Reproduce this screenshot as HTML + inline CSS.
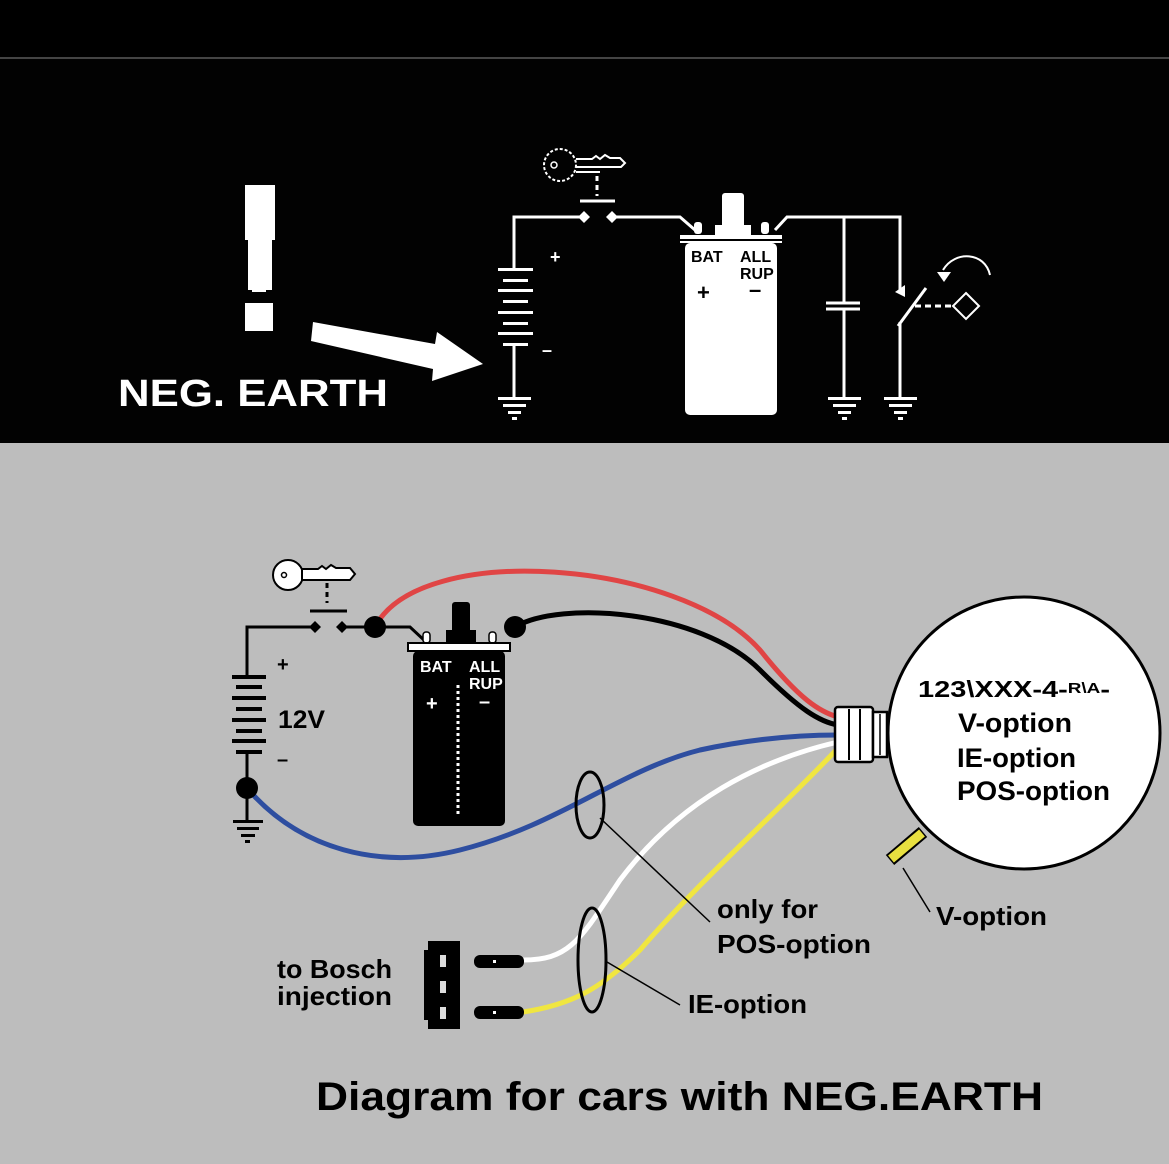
<!DOCTYPE html>
<html><head><meta charset="utf-8"><style>
html,body{margin:0;padding:0;background:#000}
svg{display:block}
text{font-family:"Liberation Sans",sans-serif;font-weight:bold}
</style></head><body>
<svg width="1169" height="1164" viewBox="0 0 1169 1164" xmlns="http://www.w3.org/2000/svg">
<rect x="0" y="0" width="1169" height="1164" fill="#000"/>
<rect x="0" y="57" width="1169" height="2" fill="#444"/>
<rect x="0" y="59" width="1169" height="384" fill="#020202"/>
<rect x="0" y="443" width="1169" height="721" fill="#bdbdbd"/>

<!-- TOP SECTION -->
<polygon points="245,185 275,185 275,240 272,240 272,290 266,290 266,292 252,292 252,290 248,290 248,240 245,240" fill="#fff"/>
<rect x="245" y="303" width="28" height="28" fill="#fff"/>
<polygon points="313,322 435,344 437,332 483,364 432,381 433,369 311,341" fill="#fff"/>
<text x="118" y="406" font-size="38" fill="#fff" textLength="270" lengthAdjust="spacingAndGlyphs">NEG. EARTH</text>

<g stroke="#fff" stroke-width="3" fill="none">
<path d="M514,269 V217 H584"/>
<path d="M612,217 H680 L695,230"/>
<path d="M775,230 L787,217 H900 V292"/>
<path d="M844,217 V303 M844,309 V398"/>
<path d="M900,322 V398"/>
<path d="M514,344 V398"/>
<line x1="580" y1="201" x2="615" y2="201"/>
<path d="M597,176 V196" stroke-dasharray="5,4"/>
<path d="M915,306 H955" stroke-dasharray="6,4"/>
<line x1="826" y1="303" x2="860" y2="303"/>
<line x1="826" y1="309" x2="860" y2="309"/>
<line x1="898" y1="326" x2="926" y2="288"/>
<path d="M990,275 C985,252 955,250 943,270" stroke-width="2"/>
<polygon points="966,293 979,306 966,319 953,306" stroke-width="2"/>
<circle cx="560" cy="165" r="16" stroke-width="2" stroke-dasharray="3,2"/>
<circle cx="554" cy="165" r="3" stroke-width="1.5"/>
<path d="M576,159 H592 L596,156 L600,159 L605,155 L610,158 H620 L625,163 L621,167 H576 M576,172 H600" stroke-width="2"/>
</g>
<polygon points="937,272 951,272 944,282" fill="#fff"/>
<polygon points="584,211 590,217 584,223 578,217" fill="#fff"/>
<polygon points="612,211 618,217 612,223 606,217" fill="#fff"/>
<path d="M895,292 L905,285 V297 Z" fill="#fff"/>
<g fill="#fff">
<rect x="498" y="268" width="35" height="3"/><rect x="503" y="279" width="25" height="3"/>
<rect x="498" y="289" width="35" height="3"/><rect x="503" y="300" width="25" height="3"/>
<rect x="498" y="311" width="35" height="3"/><rect x="503" y="322" width="25" height="3"/>
<rect x="498" y="332" width="35" height="3"/><rect x="503" y="343" width="25" height="3"/>
<g id="gnd"><rect x="498" y="397" width="33" height="3"/><rect x="503" y="404" width="23" height="3"/><rect x="508" y="411" width="13" height="3"/><rect x="512" y="417" width="5" height="3"/></g>
<use href="#gnd" x="330"/><use href="#gnd" x="386"/>
<rect x="722" y="193" width="22" height="40" rx="3"/>
<rect x="715" y="225" width="36" height="10"/>
<rect x="694" y="222" width="8" height="12" rx="3"/><rect x="761" y="222" width="8" height="12" rx="3"/>
<rect x="680" y="235" width="102" height="8"/>
<rect x="685" y="243" width="92" height="172" rx="5"/>
</g>
<rect x="680" y="239" width="102" height="2" fill="#000"/>
<text x="550" y="263" font-size="18" fill="#fff" font-weight="normal">+</text>
<text x="542" y="356" font-size="18" fill="#fff" font-weight="normal">–</text>
<text x="691" y="262" font-size="16" fill="#000" font-family="Liberation Mono">BAT</text>
<text x="740" y="262" font-size="16" fill="#000" font-family="Liberation Mono">ALL</text>
<text x="740" y="279" font-size="16" fill="#000" font-family="Liberation Mono">RUP</text>
<text x="697" y="300" font-size="22" fill="#000">+</text>
<text x="749" y="297" font-size="22" fill="#000">–</text>

<!-- BOTTOM SECTION -->
<g fill="none" stroke-linecap="round">
<path d="M375,627 C420,540 680,560 760,650 C800,700 820,712 838,717" stroke="#e04545" stroke-width="5"/>
<path d="M515,627 C560,600 700,610 760,670 C800,710 820,722 838,725" stroke="#000" stroke-width="5"/>
<path d="M247,788 C300,850 380,870 460,850 C560,825 620,770 700,750 C760,737 810,735 838,735" stroke="#2e4ea0" stroke-width="5"/>
<path d="M523,960 C570,960 580,940 620,880 C680,800 760,760 838,742" stroke="#fff" stroke-width="5"/>
<path d="M523,1012 C570,1005 600,990 640,950 C700,880 790,800 838,748" stroke="#f0e640" stroke-width="5"/>
</g>
<g stroke="#000" stroke-width="3" fill="none">
<path d="M247,677 V627 H315"/>
<path d="M342,627 H410 L425,641"/>
<path d="M247,752 V822"/>
<line x1="310" y1="611" x2="347" y2="611"/>
<path d="M327,583 V603" stroke-dasharray="5,4"/>
</g>
<polygon points="315,621 321,627 315,633 309,627" fill="#000"/>
<polygon points="342,621 348,627 342,633 336,627" fill="#000"/>
<circle cx="375" cy="627" r="11" fill="#000"/>
<circle cx="515" cy="627" r="11" fill="#000"/>
<circle cx="247" cy="788" r="11" fill="#000"/>
<g fill="#000">
<rect x="232" y="675" width="34" height="4"/><rect x="236" y="685" width="26" height="4"/>
<rect x="232" y="696" width="34" height="4"/><rect x="236" y="707" width="26" height="4"/>
<rect x="232" y="718" width="34" height="4"/><rect x="236" y="729" width="26" height="4"/>
<rect x="232" y="739" width="34" height="4"/><rect x="236" y="750" width="26" height="4"/>
<rect x="233" y="820" width="30" height="3"/><rect x="237" y="827" width="22" height="3"/><rect x="241" y="834" width="14" height="3"/><rect x="245" y="840" width="5" height="3"/>
</g>
<!-- key -->
<g stroke="#000" stroke-width="2" fill="#fff">
<circle cx="288" cy="575" r="15"/>
<path d="M302,569 H318 L322,566 L326,569 L331,565 L336,568 H350 L355,574 L350,580 H302 Z"/>
</g>
<circle cx="284" cy="575" r="2.5" fill="none" stroke="#000" stroke-width="1.5"/>
<!-- coil -->
<rect x="452" y="602" width="18" height="40" rx="3" fill="#000"/>
<rect x="446" y="630" width="30" height="12" fill="#000"/>
<rect x="423" y="632" width="7" height="11" rx="3" fill="#fff" stroke="#000" stroke-width="1.5"/>
<rect x="489" y="632" width="7" height="11" rx="3" fill="#fff" stroke="#000" stroke-width="1.5"/>
<rect x="408" y="643" width="102" height="8" fill="#fff" stroke="#000" stroke-width="2"/>
<rect x="413" y="651" width="92" height="175" rx="5" fill="#000"/>
<text x="420" y="672" font-size="16" fill="#fff" font-family="Liberation Mono" font-weight="normal">BAT</text>
<text x="469" y="672" font-size="16" fill="#fff" font-family="Liberation Mono" font-weight="normal">ALL</text>
<text x="469" y="689" font-size="16" fill="#fff" font-family="Liberation Mono" font-weight="normal">RUP</text>
<text x="426" y="710" font-size="20" fill="#fff" font-weight="normal">+</text>
<text x="479" y="708" font-size="20" fill="#fff" font-weight="normal">–</text>
<path d="M458,685 V815" stroke="#fff" stroke-width="3" stroke-dasharray="3,3"/>
<text x="277" y="671" font-size="20" fill="#000" font-weight="normal">+</text>
<text x="277" y="766" font-size="20" fill="#000" font-weight="normal">–</text>
<text x="278" y="728" font-size="25" fill="#000" textLength="47" lengthAdjust="spacingAndGlyphs">12V</text>

<!-- distributor -->
<circle cx="1024" cy="733" r="136" fill="#fff" stroke="#000" stroke-width="3"/>
<rect x="835" y="707" width="38" height="55" rx="3" fill="#fff" stroke="#000" stroke-width="2.5"/>
<rect x="873" y="712" width="14" height="45" fill="#fff" stroke="#000" stroke-width="2.5"/>
<line x1="849" y1="709" x2="849" y2="760" stroke="#000" stroke-width="2"/>
<line x1="860" y1="709" x2="860" y2="760" stroke="#000" stroke-width="2"/>
<line x1="880" y1="714" x2="880" y2="755" stroke="#000" stroke-width="1.5"/>
<text x="918" y="697" font-size="23" fill="#000" textLength="192" lengthAdjust="spacingAndGlyphs">123\XXX-4-<tspan font-size="15" dy="-4">R\A</tspan><tspan dy="4">-</tspan></text>
<text x="958" y="732" font-size="27" fill="#000" textLength="114" lengthAdjust="spacingAndGlyphs">V-option</text>
<text x="957" y="767" font-size="27" fill="#000" textLength="119" lengthAdjust="spacingAndGlyphs">IE-option</text>
<text x="957" y="800" font-size="27" fill="#000" textLength="153" lengthAdjust="spacingAndGlyphs">POS-option</text>
<line x1="890" y1="860" x2="923" y2="832" stroke="#000" stroke-width="13"/>
<line x1="891" y1="859" x2="922" y2="833" stroke="#e8e040" stroke-width="9"/>
<line x1="903" y1="868" x2="930" y2="912" stroke="#000" stroke-width="1.5"/>
<text x="936" y="925" font-size="26" fill="#000" textLength="111" lengthAdjust="spacingAndGlyphs">V-option</text>

<!-- ellipses and callouts -->
<ellipse cx="590" cy="805" rx="14" ry="33" fill="none" stroke="#000" stroke-width="3"/>
<line x1="600" y1="818" x2="710" y2="922" stroke="#000" stroke-width="1.5"/>
<text x="717" y="918" font-size="26" fill="#000" textLength="101" lengthAdjust="spacingAndGlyphs">only for</text>
<text x="717" y="953" font-size="26" fill="#000" textLength="154" lengthAdjust="spacingAndGlyphs">POS-option</text>
<ellipse cx="592" cy="960" rx="14" ry="52" fill="none" stroke="#000" stroke-width="3"/>
<line x1="607" y1="962" x2="680" y2="1005" stroke="#000" stroke-width="1.5"/>
<text x="688" y="1013" font-size="26" fill="#000" textLength="119" lengthAdjust="spacingAndGlyphs">IE-option</text>

<!-- plug -->
<rect x="428" y="941" width="32" height="88" fill="#000"/>
<rect x="424" y="950" width="6" height="70" fill="#000"/>
<rect x="440" y="955" width="6" height="12" fill="#ddd"/>
<rect x="440" y="981" width="6" height="12" fill="#ddd"/>
<rect x="440" y="1007" width="6" height="12" fill="#ddd"/>
<rect x="474" y="955" width="50" height="13" rx="6" fill="#000"/>
<rect x="474" y="1006" width="50" height="13" rx="6" fill="#000"/>
<rect x="493" y="960" width="3" height="3" fill="#fff"/>
<rect x="493" y="1011" width="3" height="3" fill="#fff"/>
<text x="277" y="978" font-size="26" fill="#000" textLength="115" lengthAdjust="spacingAndGlyphs">to Bosch</text>
<text x="277" y="1005" font-size="26" fill="#000" textLength="115" lengthAdjust="spacingAndGlyphs">injection</text>

<text x="316" y="1110" font-size="40" fill="#000" textLength="727" lengthAdjust="spacingAndGlyphs">Diagram for cars with NEG.EARTH</text>
</svg>
</body></html>
